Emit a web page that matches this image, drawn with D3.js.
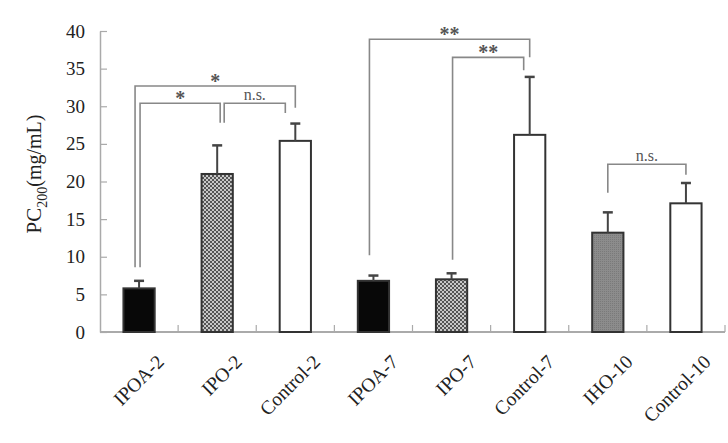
<!DOCTYPE html>
<html>
<head>
<meta charset="utf-8">
<script src="https://cdn.jsdelivr.net/npm/d3@7"></script>
<style>
  body { margin: 0; background: #fff; }
  svg { display: block; font-family: "Liberation Serif", "DejaVu Serif", serif; }
</style>
</head>
<body>
<div id="chart"></div>
<script>
// values
const categories = ["IPOA-2", "IPO-2", "Control-2", "IPOA-7", "IPO-7", "Control-7", "IHO-10", "Control-10"];
const means = [5.8, 21.0, 25.4, 6.8, 7.0, 26.2, 13.2, 17.1];
const sds = [1.0, 3.8, 2.3, 0.7, 0.8, 7.7, 2.7, 2.7];
const kinds = ["black", "check", "white", "black", "check", "white", "gray", "white"];
const yTicks = [0, 5, 10, 15, 20, 25, 30, 35, 40];

// significance brackets: from/to category, top level, end levels, label
const brackets = [
  { from: "IPOA-2", to: "Control-2", top: 32.7, left: 8.6, right: 29.8, label: "*", dl: -4, dr: 0 },
  { from: "IPOA-2", to: "IPO-2", top: 30.4, left: 8.6, right: 27.8, label: "*", dl: 1, dr: 3 },
  { from: "IPO-2", to: "Control-2", top: 30.4, left: 27.8, right: 29.1, label: "n.s.", dl: 7, dr: -10 },
  { from: "IPOA-7", to: "Control-7", top: 38.9, left: 10.2, right: 36.5, label: "**", dl: -4, dr: 0 },
  { from: "IPO-7", to: "Control-7", top: 36.5, left: 9.6, right: 34.8, label: "**", dl: 1, dr: -6 },
  { from: "IHO-10", to: "Control-10", top: 22.3, left: 18.5, right: 20.9, label: "n.s.", dl: 0, dr: 0 }
];

const W = 728, H = 443;
const margin = { top: 31, right: 3, bottom: 111, left: 100 };
const width = W - margin.left - margin.right,
      height = H - margin.top - margin.bottom;

const svg = d3.select("#chart").append("svg")
  .attr("width", W).attr("height", H);

const defs = svg.append("defs");
const pat = defs.append("pattern").attr("id", "check")
  .attr("width", 4).attr("height", 4).attr("patternUnits", "userSpaceOnUse");
pat.append("rect").attr("width", 4).attr("height", 4).attr("fill", "#c8c8c8");
pat.append("rect").attr("width", 2).attr("height", 2).attr("fill", "#555");
pat.append("rect").attr("x", 2).attr("y", 2).attr("width", 2).attr("height", 2).attr("fill", "#555");

const pat2 = defs.append("pattern").attr("id", "grayfill")
  .attr("width", 2).attr("height", 2).attr("patternUnits", "userSpaceOnUse");
pat2.append("rect").attr("width", 2).attr("height", 2).attr("fill", "#8c8c8c");
pat2.append("rect").attr("width", 1).attr("height", 1).attr("fill", "#7a7a7a");

const g = svg.append("g").attr("transform", `translate(${margin.left},${margin.top})`);

const x = d3.scaleBand().domain(categories).range([0, width]).padding(0);
const y = d3.scaleLinear().domain([0, 40]).range([height, 0]);
const barW = x.bandwidth() * 0.4;
const cx = c => x(c) + x.bandwidth() / 2;

// y axis
const yAxis = g.append("g")
  .call(d3.axisLeft(y).tickValues(yTicks).tickSize(-7).tickPadding(15).tickSizeOuter(0));
yAxis.select(".domain").attr("stroke", "#aaa").attr("stroke-width", 1.5);
yAxis.selectAll(".tick line").attr("stroke", "#aaa").attr("stroke-width", 1.2);
yAxis.selectAll(".tick text").attr("font-size", 19).attr("fill", "#222")
  .attr("font-family", "Liberation Serif, serif");

// x axis: ticks at band edges
const xAxis = g.append("g").attr("transform", `translate(0,${height})`);
xAxis.append("line").attr("x1", 0).attr("x2", width).attr("y1", 0).attr("y2", 0)
  .attr("stroke", "#aaa").attr("stroke-width", 1.8);
xAxis.selectAll(".edge").data(categories).enter().append("line")
  .attr("x1", d => x(d) + x.bandwidth()).attr("x2", d => x(d) + x.bandwidth())
  .attr("y1", 0).attr("y2", -7).attr("stroke", "#aaa").attr("stroke-width", 1.2);
xAxis.selectAll(".lbl").data(categories).enter().append("text")
  .attr("transform", d => `translate(${cx(d) + 26},${31}) rotate(-45)`)
  .attr("text-anchor", "end")
  .attr("font-size", 19.5).attr("fill", "#222")
  .text(d => d);

// bars
const fills = { black: "#080808", check: "url(#check)", white: "#fff", gray: "url(#grayfill)" };
g.selectAll(".bar").data(categories).enter().append("rect")
  .attr("x", d => cx(d) - barW / 2)
  .attr("y", (d, i) => y(means[i]))
  .attr("width", barW)
  .attr("height", (d, i) => height - y(means[i]))
  .attr("fill", (d, i) => fills[kinds[i]])
  .attr("stroke", "#333").attr("stroke-width", 2);

// error bars
g.selectAll(".err").data(categories).enter().append("line")
  .attr("x1", d => cx(d)).attr("x2", d => cx(d))
  .attr("y1", (d, i) => y(means[i])).attr("y2", (d, i) => y(means[i] + sds[i]))
  .attr("stroke", "#444").attr("stroke-width", 2);
g.selectAll(".cap").data(categories).enter().append("line")
  .attr("x1", d => cx(d) - 5).attr("x2", d => cx(d) + 5)
  .attr("y1", (d, i) => y(means[i] + sds[i])).attr("y2", (d, i) => y(means[i] + sds[i]))
  .attr("stroke", "#444").attr("stroke-width", 2.5);

// brackets
const br = g.selectAll(".br").data(brackets).enter().append("g");
br.append("path")
  .attr("d", d => {
    const x1 = cx(d.from) + d.dl, x2 = cx(d.to) + d.dr;
    return `M${x1},${y(d.left)}V${y(d.top)}H${x2}V${y(d.right)}`;
  })
  .attr("fill", "none").attr("stroke", "#888").attr("stroke-width", 1.6);
br.append("text")
  .attr("x", d => (cx(d.from) + d.dl + cx(d.to) + d.dr) / 2)
  .attr("y", d => d.label === "n.s." ? y(d.top) - 3 : y(d.top) + 2)
  .attr("text-anchor", "middle")
  .attr("font-size", d => d.label === "n.s." ? 16 : 20)
  .attr("font-weight", d => d.label === "n.s." ? "normal" : "bold")
  .attr("fill", "#555")
  .text(d => d.label);

// y label
const yl = svg.append("text")
  .attr("transform", `translate(41,${margin.top + y(21)}) rotate(-90)`)
  .attr("text-anchor", "middle").attr("font-size", 21).attr("fill", "#222");
yl.append("tspan").text("PC");
yl.append("tspan").attr("font-size", 14).attr("dy", 6).text("200");
yl.append("tspan").attr("dy", -6).attr("font-size", 20).text("(mg/mL)");
</script>
</body>
</html>
